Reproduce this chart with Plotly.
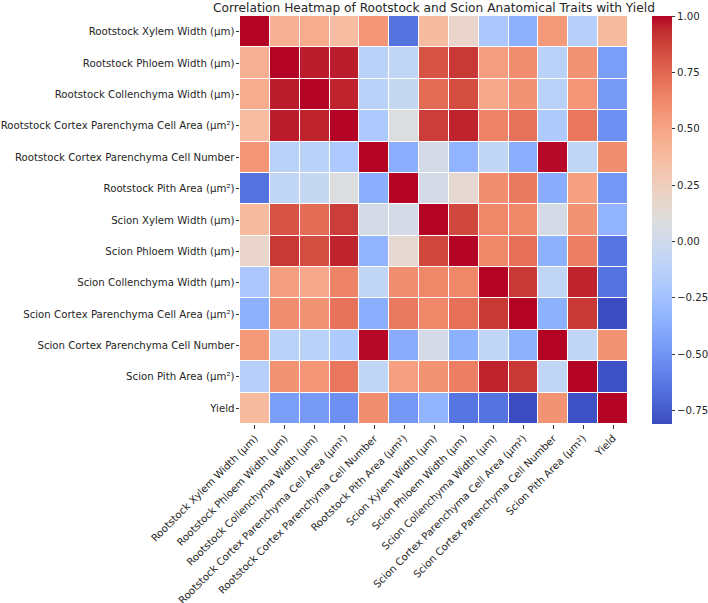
import plotly.graph_objects as go

labels = [
    "Rootstock Xylem Width (µm)",
    "Rootstock Phloem Width (µm)",
    "Rootstock Collenchyma Width (µm)",
    "Rootstock Cortex Parenchyma Cell Area (µm²)",
    "Rootstock Cortex Parenchyma Cell Number",
    "Rootstock Pith Area (µm²)",
    "Scion Xylem Width (µm)",
    "Scion Phloem Width (µm)",
    "Scion Collenchyma Width (µm)",
    "Scion Cortex Parenchyma Cell Area (µm²)",
    "Scion Cortex Parenchyma Cell Number",
    "Scion Pith Area (µm²)",
    "Yield",
]

row_rx = [1.00, 0.44, 0.46, 0.37, 0.57, -0.65, 0.38, 0.18, -0.20, -0.35, 0.55, -0.13, 0.38]
row_rph = [0.44, 1.00, 0.96, 0.96, -0.12, -0.08, 0.82, 0.90, 0.53, 0.60, -0.12, 0.58, -0.45]
row_rco = [0.46, 0.96, 1.00, 0.95, -0.12, -0.05, 0.73, 0.84, 0.48, 0.58, -0.12, 0.57, -0.47]
row_rca = [0.37, 0.96, 0.95, 1.00, -0.19, 0.09, 0.89, 0.95, 0.64, 0.71, -0.18, 0.69, -0.52]
row_rcn = [0.57, -0.12, -0.12, -0.19, 1.00, -0.37, 0.03, -0.33, -0.08, -0.37, 0.99, -0.08, 0.60]
row_rpi = [-0.65, -0.08, -0.05, 0.09, -0.37, 1.00, 0.04, 0.15, 0.60, 0.68, -0.38, 0.52, -0.48]
row_sx = [0.38, 0.82, 0.73, 0.89, 0.03, 0.04, 1.00, 0.86, 0.63, 0.63, 0.03, 0.58, -0.33]
row_sph = [0.18, 0.90, 0.84, 0.95, -0.33, 0.15, 0.86, 1.00, 0.63, 0.72, -0.35, 0.66, -0.64]
row_sco = [-0.20, 0.53, 0.48, 0.64, -0.08, 0.60, 0.63, 0.63, 1.00, 0.90, -0.08, 0.95, -0.65]
row_sca = [-0.35, 0.60, 0.58, 0.71, -0.37, 0.68, 0.63, 0.72, 0.90, 1.00, -0.35, 0.90, -0.81]
row_scn = [0.55, -0.12, -0.12, -0.18, 0.99, -0.38, 0.03, -0.35, -0.08, -0.35, 1.00, -0.08, 0.58]
row_spi = [-0.13, 0.58, 0.57, 0.69, -0.08, 0.52, 0.58, 0.66, 0.95, 0.90, -0.08, 1.00, -0.79]
row_yield = [0.38, -0.45, -0.47, -0.52, 0.60, -0.48, -0.33, -0.64, -0.65, -0.81, 0.58, -0.79, 1.00]

corr = [row_rx, row_rph, row_rco, row_rca, row_rcn, row_rpi, row_sx, row_sph,
        row_sco, row_sca, row_scn, row_spi, row_yield]

cbar_ticks = [-0.75, -0.5, -0.25, 0.0, 0.25, 0.5, 0.75, 1.0]

# coolwarm (Moreland) colour table
cw = [
    (59, 76, 192), (68, 90, 204), (77, 104, 215), (87, 117, 225), (98, 130, 234),
    (108, 142, 241), (119, 154, 247), (130, 165, 251), (141, 176, 254), (152, 185, 255),
    (163, 194, 255), (174, 201, 253), (184, 208, 249), (194, 213, 244), (204, 217, 238),
    (213, 219, 230), (221, 221, 221), (229, 216, 209), (236, 211, 197), (241, 204, 185),
    (245, 196, 173), (247, 187, 160), (247, 177, 148), (247, 166, 135), (244, 154, 123),
    (241, 141, 111), (236, 127, 99), (229, 112, 88), (222, 96, 77), (213, 80, 66),
    (203, 62, 56), (192, 40, 47), (180, 4, 38),
]
n = len(cw) - 1
colorscale = [[i / n, "rgb(%d,%d,%d)" % c] for i, c in enumerate(cw)]

FONT = "DejaVu Sans"
TXT = "#262626"

L, R, T, B = 240, 80, 16, 179
W, H = 708, 603
PW = W - L - R

zmin = min(min(r) for r in corr)
zmax = 1.0

fig = go.Figure(go.Heatmap(
    z=corr,
    x=labels,
    y=labels,
    zmin=zmin,
    zmax=zmax,
    colorscale=colorscale,
    xgap=1,
    ygap=1,
    colorbar=dict(
        x=(652 - L) / PW,
        xanchor="left",
        xref="paper",
        xpad=0,
        ypad=0,
        y=0.5,
        yanchor="middle",
        len=1.0,
        lenmode="fraction",
        thickness=20,
        thicknessmode="pixels",
        outlinewidth=0,
        tickvals=cbar_ticks,
        ticktext=[("−%.2f" % -v) if v < 0 else ("%.2f" % v) for v in cbar_ticks],
        ticks="outside",
        ticklen=3.5,
        tickcolor="#333",
        tickfont=dict(family=FONT, size=10.2, color=TXT),
    ),
    hovertemplate="%{y}<br>%{x}<br>%{z:.2f}<extra></extra>",
))

fig.update_layout(
    width=W,
    height=H,
    margin=dict(l=L, r=R, t=T, b=B, autoexpand=False),
    paper_bgcolor="white",
    plot_bgcolor="white",
    font=dict(family=FONT, color=TXT),
    title=dict(
        text="Correlation Heatmap of Rootstock and Scion Anatomical Traits with Yield",
        x=0.5,
        xanchor="center",
        xref="paper",
        yref="container",
        y=1 - 7.5 / H,
        yanchor="middle",
        font=dict(family=FONT, size=12.2, color=TXT),
    ),
)

fig.update_xaxes(
    tickangle=-45,
    ticks="outside",
    ticklen=3.5,
    tickcolor="#333",
    tickfont=dict(family=FONT, size=10.2, color=TXT),
    showgrid=False,
    zeroline=False,
    showline=False,
    automargin=False,
)
fig.update_yaxes(
    autorange="reversed",
    ticks="outside",
    ticklen=3.5,
    tickcolor="#333",
    tickfont=dict(family=FONT, size=10.2, color=TXT),
    ticklabelstandoff=-1,
    showgrid=False,
    zeroline=False,
    showline=False,
    automargin=False,
)

fig.write_html(
    "out.html",
    config={"displayModeBar": False},
    post_script="document.body.style.margin='0';document.body.style.padding='0';",
)
